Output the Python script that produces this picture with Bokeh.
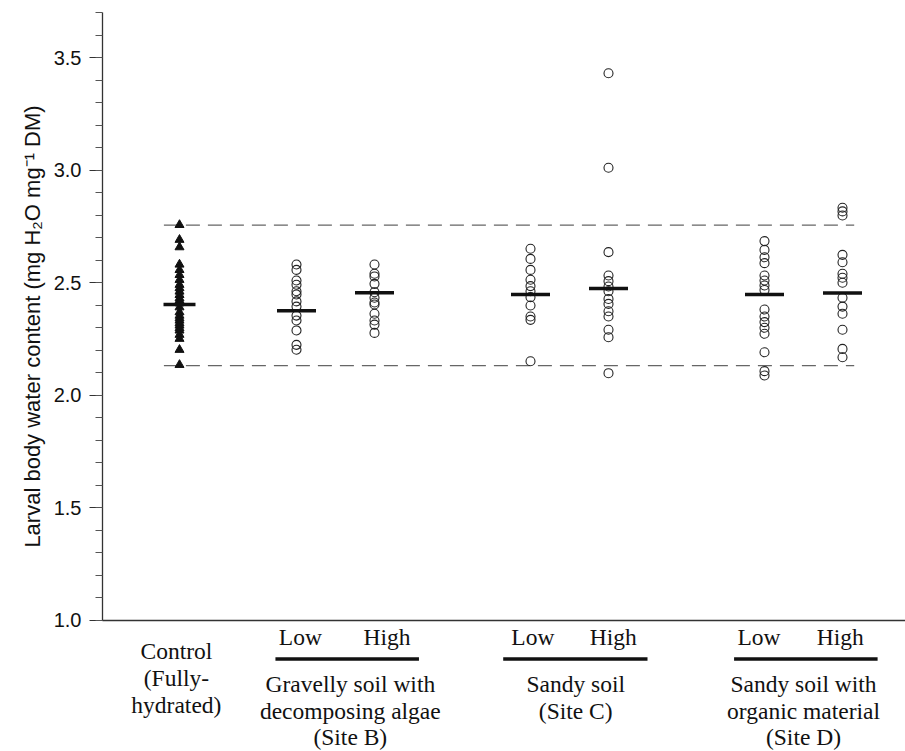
from bokeh.plotting import figure
from bokeh.models import FixedTicker, PrintfTickFormatter, Range1d
from bokeh.embed import file_html
from bokeh.resources import INLINE
from bokeh.core.properties import value

# ---------------- data ----------------
group_names = ["Control", "Site B Low", "Site B High", "Site C Low", "Site C High", "Site D Low", "Site D High"]
group_x = [0.0, 1.5, 2.5, 4.5, 5.5, 7.5, 8.5]

control = [2.756, 2.69, 2.657, 2.58, 2.556, 2.534, 2.512, 2.49, 2.475, 2.46, 2.445, 2.43, 2.42,
           2.408, 2.39, 2.368, 2.353, 2.341, 2.331, 2.319, 2.309, 2.297, 2.287, 2.268, 2.25,
           2.201, 2.134]
site_b_low = [2.58, 2.556, 2.509, 2.49, 2.461, 2.447, 2.416, 2.393, 2.353, 2.331, 2.287, 2.223, 2.201]
site_b_high = [2.58, 2.539, 2.527, 2.494, 2.457, 2.432, 2.411, 2.402, 2.361, 2.331, 2.313, 2.276]
site_c_low = [2.65, 2.605, 2.556, 2.512, 2.484, 2.461, 2.435, 2.398, 2.349, 2.334, 2.15]
site_c_high = [3.43, 3.01, 2.635, 2.531, 2.506, 2.482, 2.461, 2.427, 2.405, 2.372, 2.349, 2.29,
               2.257, 2.097]
site_d_low = [2.684, 2.645, 2.612, 2.586, 2.531, 2.509, 2.487, 2.467, 2.38, 2.349, 2.324, 2.299,
              2.272, 2.19, 2.106, 2.087]
site_d_high = [2.832, 2.816, 2.798, 2.623, 2.59, 2.539, 2.521, 2.499, 2.432, 2.393, 2.361, 2.29,
               2.205, 2.168]

group_means = [2.402, 2.375, 2.454, 2.447, 2.473, 2.447, 2.453]
limit_upper = 2.755
limit_lower = 2.131

y_min, y_max = 1.0, 3.7
y_ticks = [1.0, 1.5, 2.0, 2.5, 3.0, 3.5]
y_minor = [1.0, 1.1, 1.2, 1.3, 1.4, 1.5, 1.6, 1.7, 1.8, 1.9, 2.0, 2.1, 2.2, 2.3, 2.4, 2.5, 2.6,
           2.7, 2.8, 2.9, 3.0, 3.1, 3.2, 3.3, 3.4, 3.5, 3.6, 3.7]

level_labels = ["Low", "High"]
site_labels = [["Gravelly soil with", "decomposing algae", "(Site B)"],
               ["Sandy soil", "(Site C)"],
               ["Sandy soil with", "organic material", "(Site D)"]]
control_label = ["Control", "(Fully-", "hydrated)"]
y_label = "Larval body water content (mg H\u2082O mg\u207b\u00b9 DM)"

# ---------------- layout ----------------
W, H = 905, 751
PX_PER_X = 78.0      # px per category step
PX_PER_Y = 225.0     # px per 1.0 of water content
X_ORIGIN_PX = 179    # page x of the control column
Y_350_PX = 57        # page y of the 3.5 tick
AXIS_X_PX = 102      # page x of the y axis line
TEXT_SHIFT = 8       # compensation for the rendered baseline of serif text


def dx(px):
    return (px - X_ORIGIN_PX) / PX_PER_X


def dy(py):
    return 3.5 - (py - Y_350_PX) / PX_PER_Y


# the frame covers the whole canvas; axes sit at fixed data locations
p = figure(width=W, height=H, output_backend="svg", toolbar_location=None,
           x_range=Range1d(dx(0), dx(W)), y_range=Range1d(dy(H), dy(0)), min_border=0)
p.outline_line_color = None
p.grid.grid_line_color = None

axis_x = dx(AXIS_X_PX)

ya = p.yaxis[0]
ya.fixed_location = axis_x
ya.bounds = (y_min, y_max)
ya.ticker = FixedTicker(ticks=y_ticks, minor_ticks=y_minor)
ya.formatter = PrintfTickFormatter(format="%.1f")
ya.major_tick_out = 13
ya.major_tick_in = 0
ya.minor_tick_out = 7
ya.minor_tick_in = 0
ya.major_label_standoff = 8
ya.major_label_text_font = "Liberation Sans"
ya.major_label_text_font_size = "20px"
ya.major_label_text_color = "#111111"
ya.axis_line_color = "#333333"
ya.axis_line_width = 1.3
ya.major_tick_line_color = "#333333"
ya.minor_tick_line_color = "#555555"
ya.major_tick_line_width = 1.2
ya.minor_tick_line_width = 1.2

xa = p.xaxis[0]
xa.fixed_location = y_min
xa.bounds = (axis_x, dx(W))
xa.ticker = FixedTicker(ticks=[])
xa.major_tick_out = 0
xa.major_tick_in = 0
xa.major_tick_line_color = None
xa.minor_tick_line_color = None
xa.major_label_text_font_size = "0px"
xa.axis_line_color = "#333333"
xa.axis_line_width = 1.3

# dashed reference limits
dash_x0 = group_x[0] - 0.2
dash_x1 = group_x[-1] + 0.15
p.segment(x0=[dash_x0, dash_x0], x1=[dash_x1, dash_x1], y0=[limit_upper, limit_lower],
          y1=[limit_upper, limit_lower], line_color="#666666", line_width=1.3, line_dash="14 8")

# individual larvae
series = [control, site_b_low, site_b_high, site_c_low, site_c_high, site_d_low, site_d_high]
cx, cy = [], []
for gx, vals in zip(group_x[1:], series[1:]):
    cx += [gx] * len(vals)
    cy += vals
p.scatter(x=cx, y=cy, marker="circle", size=9, fill_color=None, line_color="#222222", line_width=1.1)
p.scatter(x=[group_x[0]] * len(control), y=control, marker="triangle", size=9,
          fill_color="#111111", line_color="#111111")

# group means
bar_w = [0.41] + [0.5] * 6
p.rect(x=group_x, y=group_means, width=bar_w, height=3.5, height_units="screen",
       fill_color="#111111", line_color=None)

# ---------------- category labels below the axis ----------------
def ty_text(py):
    return dy(py - TEXT_SHIFT)


tx, ty, tt = [], [], []
for i, t in enumerate(control_label):
    tx.append(group_x[0] - 0.04); ty.append(ty_text(658.3 + 27 * i)); tt.append(t)

low_off = [0.05, 0.03, -0.07]
high_off = [0.16, 0.06, -0.03]
line_ext = [(0.27, 0.57), (0.35, 0.50), (0.39, 0.45)]
site_center = [2.19, 5.08, 8.0]
ux0, ux1 = [], []
for k in range(3):
    lx = group_x[1 + 2 * k]
    hx = group_x[2 + 2 * k]
    tx += [lx + low_off[k], hx + high_off[k]]
    ty += [ty_text(644.3), ty_text(644.3)]
    tt += level_labels
    ux0.append(lx - line_ext[k][0])
    ux1.append(hx + line_ext[k][1])
    for i, t in enumerate(site_labels[k]):
        tx.append(site_center[k]); ty.append(ty_text(691.5 + 26.5 * i)); tt.append(t)

p.text(x=tx, y=ty, text=tt, text_font=value("Liberation Serif"), text_font_size=value("23.5px"),
       text_align="center", text_baseline="alphabetic", text_color="#111111")
p.segment(x0=ux0, x1=ux1, y0=[dy(658.5)] * 3, y1=[dy(658.5)] * 3, line_width=3.5,
          line_color="#111111")

# y-axis title
p.text(x=[dx(32)], y=[dy(326)], text=[y_label], angle=1.5707963, text_font=value("Liberation Sans"),
       text_font_size=value("22px"), text_align="center", text_baseline="middle",
       text_color="#111111")

open("out.html", "w").write(file_html(p, INLINE))
